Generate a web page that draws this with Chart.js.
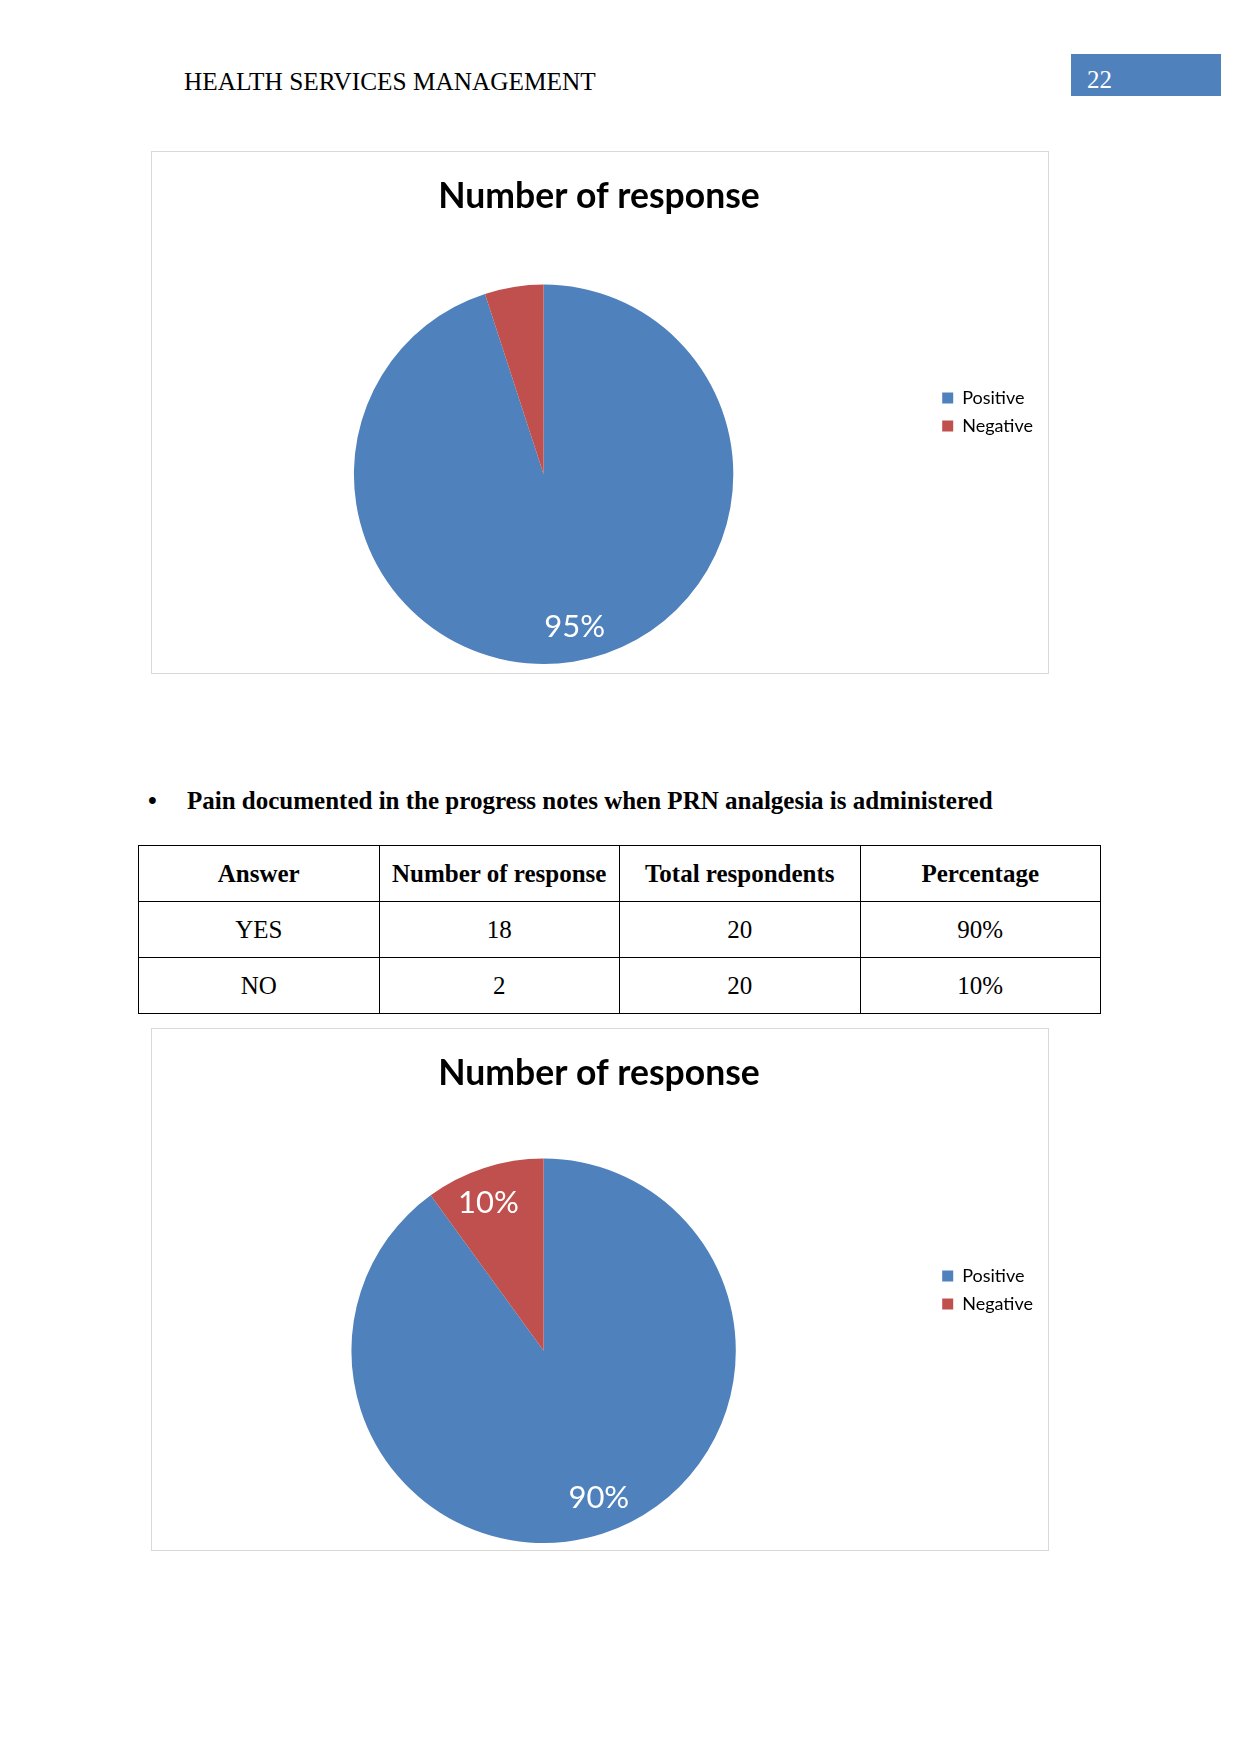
<!DOCTYPE html>
<html>
<head>
<meta charset="utf-8">
<script src="https://cdn.jsdelivr.net/npm/chart.js@4.4.0/dist/chart.umd.min.js"></script>
<style>
  body { margin: 0; background: #fff; }
  .page { position: relative; width: 1241px; height: 1754px; font-family: "Liberation Serif", "Times New Roman", serif; color: #000; }
  .header { position: absolute; left: 184px; top: 67px; font-size: 25.3px; line-height: 28px; }
  .pagenum { position: absolute; left: 1071px; top: 54px; width: 150px; height: 42px; background: #4f81bd; color: #fff; font-size: 25px; line-height: 28px; box-sizing: border-box; padding: 12px 0 0 16px; }
  .chartbox { position: absolute; left: 151px; width: 898px; height: 523px; border: 1px solid #d9d9d9; box-sizing: border-box; }
  .bullet { position: absolute; left: 148px; top: 787px; font-size: 25px; font-weight: bold; line-height: 28px; }
  .bullet span { display: inline-block; width: 39px; }
  table { position: absolute; left: 138px; top: 845px; width: 963px; table-layout: fixed; border-collapse: collapse; font-size: 25px; }
  td, th { border: 1px solid #000; text-align: center; height: 55px; padding: 0; }
  th { font-weight: bold; }
</style>
</head>
<body>
<div class="page">
  <div class="header">HEALTH SERVICES MANAGEMENT</div>
  <div class="pagenum">22</div>

  <div class="chartbox" style="top:151px"><canvas id="chart1" width="896" height="521"></canvas></div>

  <div class="bullet"><span>&#8226;</span>Pain documented in the progress notes when PRN analgesia is administered</div>
  <table id="tbl"></table>

  <div class="chartbox" style="top:1028px"><canvas id="chart2" width="896" height="521"></canvas></div>
</div>

<script>
// pie data
const sliceLabels = ["Positive", "Negative"];
const chart1Values = [19, 1];
const chart1ShowPct = [true, false];
const chart2Values = [18, 2];
const chart2ShowPct = [true, true];
const chartTitle = "Number of response";

// table data
const tableHead = ["Answer", "Number of response", "Total respondents", "Percentage"];
const tableAnswers = ["YES", "NO"];
const tableResponses = [18, 2];
const tableTotals = [20, 20];
const tablePercent = ["90%", "10%"];

const sliceColors = ["#4f81bd", "#c0504d"];

// fill the table
const tbl = document.getElementById("tbl");
let html = "<tr>" + tableHead.map((h) => `<th>${h}</th>`).join("") + "</tr>";
tableAnswers.forEach((a, i) => {
  html += `<tr><td>${a}</td><td>${tableResponses[i]}</td><td>${tableTotals[i]}</td><td>${tablePercent[i]}</td></tr>`;
});
tbl.innerHTML = html;

// percent labels placed inside the slices (excel puts them a bit ccw of the middle)
const pctLabels = {
  id: "pctLabels",
  afterDatasetsDraw(chart, args, opts) {
    const ctx = chart.ctx;
    const values = chart.data.datasets[0].data;
    const total = values.reduce((s, v) => s + v, 0);
    chart.getDatasetMeta(0).data.forEach((arc, i) => {
      if (!opts.show[i]) return;
      const p = arc.getProps(["x", "y", "startAngle", "endAngle", "outerRadius"], true);
      const mid = (p.startAngle + p.endAngle) / 2 - 2.5 * Math.PI / 180;
      const d = p.outerRadius * 0.82;
      ctx.save();
      ctx.fillStyle = "#fff";
      ctx.font = "31px Lato";
      ctx.textAlign = "center";
      ctx.textBaseline = "middle";
      ctx.fillText(Math.round(values[i] / total * 100) + "%", p.x + Math.cos(mid) * d, p.y + Math.sin(mid) * d);
      ctx.restore();
    });
  },
};

function makePie(id, values, showPct, titleGap, bottomPad) {
  return new Chart(document.getElementById(id), {
    type: "pie",
    data: {
      labels: sliceLabels,
      datasets: [{ data: values, backgroundColor: sliceColors, borderWidth: 0 }],
    },
    options: {
      responsive: false,
      animation: false,
      devicePixelRatio: 1,
      layout: { padding: { left: 3, right: 5, top: 8, bottom: bottomPad } },
      plugins: {
        title: {
          display: true,
          text: chartTitle,
          color: "#000",
          font: { family: "Lato", size: 35.5, weight: "bold" },
          padding: { top: 15, bottom: titleGap },
        },
        legend: {
          position: "right",
          align: "center",
          labels: {
            boxWidth: 11,
            boxHeight: 11,
            padding: 10,
            color: "#000",
            font: { family: "Lato", size: 18 },
          },
        },
        tooltip: { enabled: false },
        pctLabels: { show: showPct },
      },
    },
    plugins: [pctLabels],
  });
}

makePie("chart1", chart1Values, chart1ShowPct, 67, 9);
makePie("chart2", chart2Values, chart2ShowPct, 64, 7);
</script>
</body>
</html>
